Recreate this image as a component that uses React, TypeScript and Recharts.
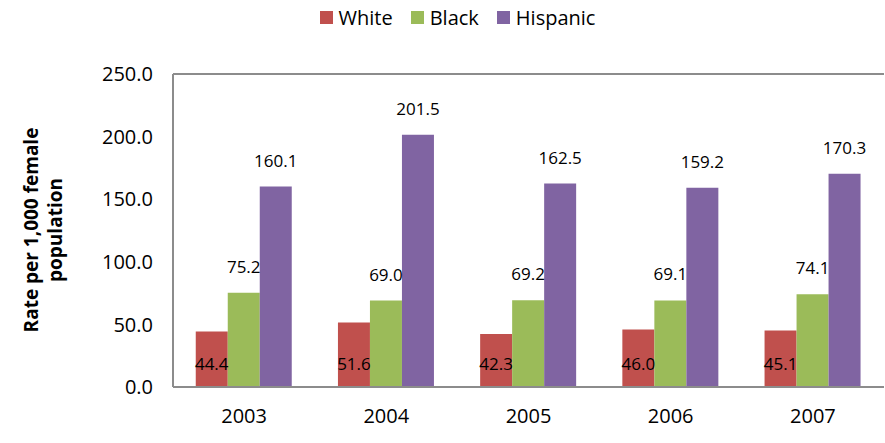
import { Bar, BarChart, CartesianGrid, LabelList, XAxis, YAxis } from 'recharts';

const years = ['2003', '2004', '2005', '2006', '2007'];
const white = [44.4, 51.6, 42.3, 46.0, 45.1];
const black = [75.2, 69.0, 69.2, 69.1, 74.1];
const hispanic = [160.1, 201.5, 162.5, 159.2, 170.3];
const yTicks = [0, 50, 100, 150, 200, 250];

const seriesInfo = [
  { key: 'white', name: 'White', color: '#c0504d' },
  { key: 'black', name: 'Black', color: '#9bbb59' },
  { key: 'hispanic', name: 'Hispanic', color: '#8064a2' },
];

const rows = years.map((year, i) => ({ year, white: white[i], black: black[i], hispanic: hispanic[i] }));

const font = 'Open Sans, Calibri, sans-serif';

const WhiteLabel = (props: any) => {
  const { x, width, value } = props;
  return (
    <text x={x + width / 2} y={370} textAnchor="middle" fontSize={17} fill="#000" fontFamily={font}>
      {Number(value).toFixed(1)}
    </text>
  );
};

const TopLabel = (props: any) => {
  const { x, y, width, value } = props;
  return (
    <text x={x + width / 2} y={y - 20} textAnchor="middle" fontSize={17} fill="#000" fontFamily={font}>
      {Number(value).toFixed(1)}
    </text>
  );
};

export default function App() {
  return (
    <div style={{ position: 'absolute', left: 0, top: 0, width: 885, height: 443, background: '#fff', fontFamily: font }}>
      <div style={{ position: 'absolute', top: 4, left: 0, width: 885, display: 'flex', justifyContent: 'center', gap: 18, fontSize: 20, paddingLeft: 30, boxSizing: 'border-box' }}>
        {seriesInfo.map((s) => (
          <span key={s.key} style={{ display: 'flex', alignItems: 'center', gap: 6 }}>
            <span style={{ width: 13, height: 13, background: s.color, display: 'inline-block' }} />
            {s.name}
          </span>
        ))}
      </div>
      <svg style={{ position: 'absolute', left: 0, top: 0 }} width={80} height={443}>
        <text transform="translate(38,230) rotate(-90)" textAnchor="middle" fontSize={19} fontWeight="bold" fontFamily={font}>
          Rate per 1,000 female
        </text>
        <text transform="translate(62,230) rotate(-90)" textAnchor="middle" fontSize={19} fontWeight="bold" fontFamily={font}>
          population
        </text>
      </svg>
      <div style={{ position: 'absolute', left: 0, top: 0 }}>
        <BarChart width={885} height={443} data={rows} margin={{ top: 74, right: 1, bottom: 26, left: 0 }} barGap={0} barCategoryGap="16%">
          <CartesianGrid vertical={false} stroke="#8c8c8c" strokeWidth={2} />
          <XAxis dataKey="year" height={30} tickLine={false} axisLine={{ stroke: '#8c8c8c', strokeWidth: 2 }} tick={{ fill: '#000', fontSize: 20, fontFamily: font }} dy={14} />
          <YAxis
            yAxisId="left"
            domain={[0, 250]}
            ticks={yTicks}
            width={173}
            tickFormatter={(v) => Number(v).toFixed(1)}
            tickLine={false}
            axisLine={{ stroke: '#8c8c8c', strokeWidth: 2 }}
            tick={{ fill: '#000', fontSize: 20, fontFamily: font, dx: -12 }}
          />
          <YAxis yAxisId="right" orientation="right" width={0} domain={[0, 250]} tick={false} tickLine={false} axisLine={{ stroke: '#8c8c8c', strokeWidth: 2 }} />
          {seriesInfo.map((s) => (
            <Bar key={s.key} yAxisId="left" dataKey={s.key} name={s.name} fill={s.color} isAnimationActive={false}>
              <LabelList dataKey={s.key} content={s.key === 'white' ? WhiteLabel : TopLabel} />
            </Bar>
          ))}
        </BarChart>
      </div>
    </div>
  );
}
